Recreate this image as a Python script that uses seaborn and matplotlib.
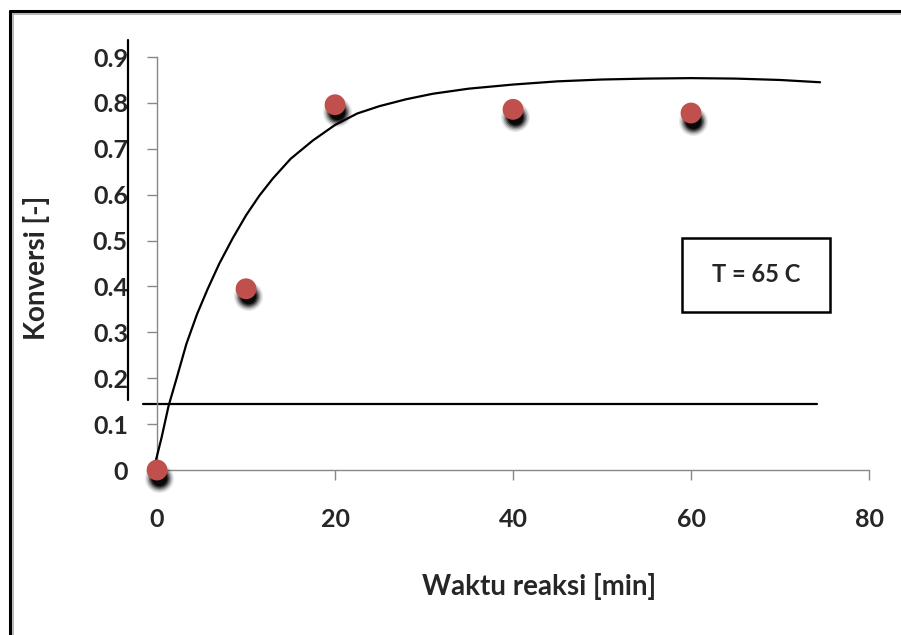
import numpy as np
import pandas as pd
import matplotlib
matplotlib.use("Agg")
import matplotlib.pyplot as plt
import matplotlib.transforms as mtransforms
from matplotlib.lines import Line2D
from matplotlib.patches import Rectangle
import seaborn as sns

# measured points (waktu reaksi vs konversi)
waktu = [0, 10, 20, 40, 60]
konversi = [0.0, 0.395, 0.796, 0.786, 0.778]

# trend line
trend_x = [-0.4, 0.5, 1.3, 2.2, 3.3, 4.5, 5.7, 7, 8.5, 10, 11.5, 13, 15, 17.5, 20,
           22.5, 25, 28, 31, 35, 40, 45, 50, 55, 60, 65, 70, 74.5]
trend_y = [0.0, 0.07, 0.14, 0.2, 0.275, 0.34, 0.395, 0.45, 0.505, 0.555, 0.598, 0.635,
           0.678, 0.718, 0.752, 0.777, 0.793, 0.808, 0.82, 0.831, 0.84, 0.847, 0.851,
           0.853, 0.854, 0.853, 0.85, 0.845]

x_ticks = [0, 20, 40, 60, 80]
y_ticks = [0, 0.1, 0.2, 0.3, 0.4, 0.5, 0.6, 0.7, 0.8, 0.9]

df = pd.DataFrame({"waktu": waktu, "konversi": konversi})
trend = pd.DataFrame({"x": trend_x, "y": trend_y})

sns.set_theme(style="white")
plt.rcParams["font.family"] = ["Lato", "DejaVu Sans"]

fig = plt.figure(figsize=(9.01, 6.35), dpi=100)
ax = fig.add_axes([0.1743, 0.2598, 0.7902, 0.6504])

# trend line
sns.lineplot(data=trend, x="x", y="y", color="black", linewidth=1.6, sort=False,
             ax=ax, clip_on=False, zorder=3)

# soft shadow under each marker
for sz, al in [(21, 0.08), (19, 0.14), (17, 0.22), (15, 0.35), (13, 0.55), (11, 0.8)]:
    off = mtransforms.offset_copy(ax.transData, fig=fig, x=1.5, y=-5.5, units="points")
    ax.plot(df["waktu"], df["konversi"], "o", ms=sz, color="black", alpha=al,
            mec="none", transform=off, clip_on=False, zorder=4)

sns.scatterplot(data=df, x="waktu", y="konversi", s=225, color="#c0504d",
                edgecolor="none", ax=ax, clip_on=False, zorder=5)

ax.set_xlim(0, 80)
ax.set_ylim(0, 0.9)
ax.set_xticks(x_ticks)
ax.set_yticks(y_ticks)
ax.set_xticklabels([str(v) for v in x_ticks], fontsize=18, fontweight="bold")
ax.set_yticklabels(["0"] + [f"{v:.1f}" for v in y_ticks[1:]], fontsize=18, fontweight="bold")

for s in ["top", "right"]:
    ax.spines[s].set_visible(False)
for s in ["left", "bottom"]:
    ax.spines[s].set_color("#888888")
    ax.spines[s].set_linewidth(1.0)
ax.tick_params(axis="y", direction="out", length=7, width=1, color="#888888", pad=14, left=True)
ax.tick_params(axis="x", direction="out", length=7, width=1, color="#888888", pad=20, bottom=True)

ax.set_xlabel("Waktu reaksi [min]", fontsize=20, fontweight="bold")
ax.set_ylabel("Konversi [-]", fontsize=20, fontweight="bold")
ax.xaxis.set_label_coords(0.537, -0.25)
ax.yaxis.set_label_coords(-0.15, 0.49)

# stray lines drawn on the chart
ax.axhline(0.1435, xmin=-0.02, xmax=0.927, color="black", linewidth=1.6, clip_on=False, zorder=2)
ax.axvline(-3.26, ymin=0.169, ymax=1.041, color="black", linewidth=1.6, clip_on=False, zorder=2)

# annotation box
ax.add_patch(Rectangle((0.737, 0.383), 0.208, 0.179, transform=ax.transAxes,
                       facecolor="white", edgecolor="black", linewidth=1.8, zorder=6))
ax.text(0.841, 0.4725, "T = 65 C", transform=ax.transAxes, ha="center", va="center",
        fontsize=17, fontweight="bold", zorder=7)

# outer frame (top and left only visible)
fig.add_artist(Line2D([0.0111, 1.0], [0.9827, 0.9827], color="black", linewidth=2.2))
fig.add_artist(Line2D([0.0111, 0.0111], [0.0, 0.9827], color="black", linewidth=2.2))
fig.add_artist(Line2D([0.0144, 1.0], [0.9787, 0.9787], color="#aaaaaa", linewidth=1.2))
fig.add_artist(Line2D([0.0144, 0.0144], [0.0, 0.9787], color="#aaaaaa", linewidth=1.2))

fig.savefig("out.png", dpi=100)
